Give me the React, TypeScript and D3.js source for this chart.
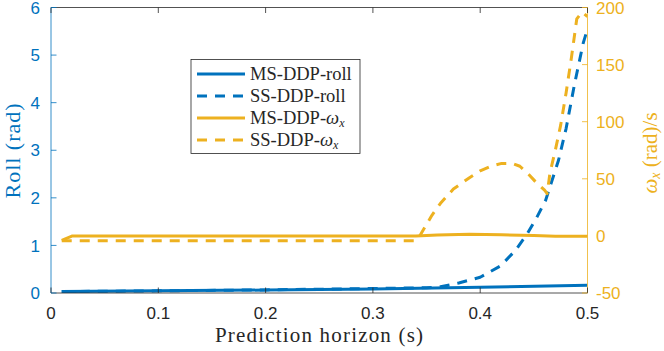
import React from "react";
import * as d3 from "d3";

const W = 664;
const H = 351;

const xTicks = [0, 0.1, 0.2, 0.3, 0.4, 0.5];
const leftTicks = [0, 1, 2, 3, 4, 5, 6];
const rightTicks = [-50, 0, 50, 100, 150, 200];

// MS-DDP-roll (rad)
const msRollX = [0.01, 0.1, 0.2, 0.3, 0.4, 0.5];
const msRollY = [0.03, 0.045, 0.062, 0.085, 0.12, 0.165];

// SS-DDP-roll (rad)
const ssRollX = [0.01, 0.1, 0.2, 0.3, 0.35, 0.363, 0.38, 0.4, 0.419, 0.433, 0.444, 0.453, 0.461, 0.467, 0.473, 0.48, 0.488, 0.496, 0.5];
const ssRollY = [0.03, 0.045, 0.065, 0.095, 0.11, 0.13, 0.21, 0.33, 0.57, 0.9, 1.25, 1.6, 1.95, 2.37, 2.79, 3.45, 4.4, 5.25, 5.55];

// MS-DDP-omega_x (rad/s)
const msOmX = [0.01, 0.02, 0.1, 0.2, 0.3, 0.34, 0.36, 0.39, 0.42, 0.45, 0.47, 0.5];
const msOmY = [-4, 0, 0, 0, 0, 0, 0.7, 1.4, 1.0, 0.3, -0.3, -0.3];

// SS-DDP-omega_x (rad/s)
const ssOmX = [0.01, 0.1, 0.2, 0.3, 0.34, 0.343, 0.355, 0.363, 0.375, 0.39, 0.4, 0.41, 0.42, 0.43, 0.437, 0.445, 0.452, 0.46, 0.4624, 0.465, 0.47, 0.475, 0.48, 0.485, 0.49, 0.495, 0.5];
const ssOmY = [-4.2, -4.2, -4.2, -4.2, -4.2, -1, 18, 28.5, 41, 51, 57, 61, 63.5, 63.5, 61, 54, 47, 40, 37, 55, 75, 97, 125, 156, 190, 196, 192];

const BLUE = "#0072BD";
const ORANGE = "#EDB120";
const DARK = "#262626";

const L = 51, R = 587.5, T = 7.5, B = 293;

const serif = { fontFamily: "'Liberation Serif', 'Times New Roman', Times, serif" };
const sans = { fontFamily: "'Liberation Sans', Arial, Helvetica, sans-serif" };

export default function App() {
  const x = d3.scaleLinear().domain([0, 0.5]).range([L, R]);
  const yL = d3.scaleLinear().domain([0, 6]).range([B, T]);
  const yR = d3.scaleLinear().domain([-50, 200]).range([B, T]);

  const lineL = d3.line<[number, number]>().x(d => x(d[0])).y(d => yL(d[1]));
  const lineR = d3.line<[number, number]>().x(d => x(d[0])).y(d => yR(d[1]));
  const zip = (a: number[], b: number[]) => a.map((v, i) => [v, b[i]] as [number, number]);

  const dash = "10,8";
  const lw = 3;
  const tickLen = 5.5;

  const legend = [
    { label: "MS-DDP-roll", color: BLUE, dashed: false, omega: false },
    { label: "SS-DDP-roll", color: BLUE, dashed: true, omega: false },
    { label: "MS-DDP-", color: ORANGE, dashed: false, omega: true },
    { label: "SS-DDP-", color: ORANGE, dashed: true, omega: true },
  ];
  const legRows = [74, 96, 118, 140];

  return (
    <svg width={W} height={H} style={{ position: "absolute", left: 0, top: 0, background: "#fff" }}>
      <defs>
        <clipPath id="plot">
          <rect x={L} y={T - 2} width={R - L} height={B - T + 2} />
        </clipPath>
      </defs>
      <rect x={0} y={0} width={W} height={H} fill="#fff" />

      {/* lines */}
      <g clipPath="url(#plot)" fill="none" strokeLinejoin="round">
        <path d={lineL(zip(msRollX, msRollY)) || ""} stroke={BLUE} strokeWidth={lw} />
        <path d={lineL(zip(ssRollX, ssRollY)) || ""} stroke={BLUE} strokeWidth={lw} strokeDasharray={dash} />
        <path d={lineR(zip(msOmX, msOmY)) || ""} stroke={ORANGE} strokeWidth={lw} />
        <path d={lineR(zip(ssOmX, ssOmY)) || ""} stroke={ORANGE} strokeWidth={lw} strokeDasharray={dash} />
      </g>

      {/* box */}
      <line x1={L} x2={R} y1={T} y2={T} stroke={DARK} strokeWidth={0.8} />
      <line x1={L} x2={R} y1={B} y2={B} stroke={DARK} strokeWidth={0.8} />
      <line x1={L} x2={L} y1={T} y2={B} stroke={BLUE} strokeWidth={0.8} />
      <line x1={R} x2={R} y1={T} y2={B} stroke={ORANGE} strokeWidth={0.8} />

      {/* x ticks */}
      {xTicks.map(t => (
        <g key={"x" + t}>
          <line x1={x(t)} x2={x(t)} y1={B} y2={B - tickLen} stroke={DARK} strokeWidth={0.8} />
          <line x1={x(t)} x2={x(t)} y1={T} y2={T + tickLen} stroke={DARK} strokeWidth={0.8} />
          <text x={x(t)} y={319} textAnchor="middle" style={sans} fontSize={17} fill={DARK}>
            {String(t)}
          </text>
        </g>
      ))}

      {/* left ticks */}
      {leftTicks.map(t => (
        <g key={"l" + t}>
          <line x1={L} x2={L + tickLen} y1={yL(t)} y2={yL(t)} stroke={BLUE} strokeWidth={0.8} />
          <text x={40} y={yL(t) + 6.2} textAnchor="end" style={sans} fontSize={17} fill={BLUE}>
            {String(t)}
          </text>
        </g>
      ))}

      {/* right ticks */}
      {rightTicks.map(t => (
        <g key={"r" + t}>
          <line x1={R} x2={R - tickLen} y1={yR(t)} y2={yR(t)} stroke={ORANGE} strokeWidth={0.8} />
          <text x={596} y={yR(t) + 6.2} textAnchor="start" style={sans} fontSize={17} fill={ORANGE}>
            {t < 0 ? "-" + Math.abs(t) : String(t)}
          </text>
        </g>
      ))}

      {/* axis labels */}
      <text x={319} y={342} textAnchor="middle" style={serif} fontSize={21} fill={DARK} textLength={208} lengthAdjust="spacing">
        Prediction horizon (s)
      </text>
      <text transform={`translate(20,151) rotate(-90)`} textAnchor="middle" style={serif} fontSize={22} fill={BLUE} textLength={95} lengthAdjust="spacing">
        Roll (rad)
      </text>
      <text transform={`translate(657,153) rotate(-90)`} textAnchor="middle" style={serif} fontSize={21} fill={ORANGE}>
        <tspan fontStyle="italic">ω</tspan>
        <tspan fontStyle="italic" fontSize={14} dy={3}>x</tspan>
        <tspan dy={-3}>{" (rad)/s"}</tspan>
      </text>

      {/* legend */}
      <rect x={191} y={59.5} width={169} height={94} fill="#fff" stroke={DARK} strokeWidth={0.8} />
      {legend.map((e, i) => (
        <g key={e.label + i}>
          <line x1={197} x2={245} y1={legRows[i]} y2={legRows[i]} stroke={e.color} strokeWidth={lw} strokeDasharray={e.dashed ? "10,8" : undefined} />
          <text x={250} y={legRows[i] + 6} style={serif} fontSize={18.5} fill={DARK}>
            {e.label}
            {e.omega ? (
              <>
                <tspan fontStyle="italic">ω</tspan>
                <tspan fontStyle="italic" fontSize={12} dy={3}>x</tspan>
              </>
            ) : null}
          </text>
        </g>
      ))}
    </svg>
  );
}
